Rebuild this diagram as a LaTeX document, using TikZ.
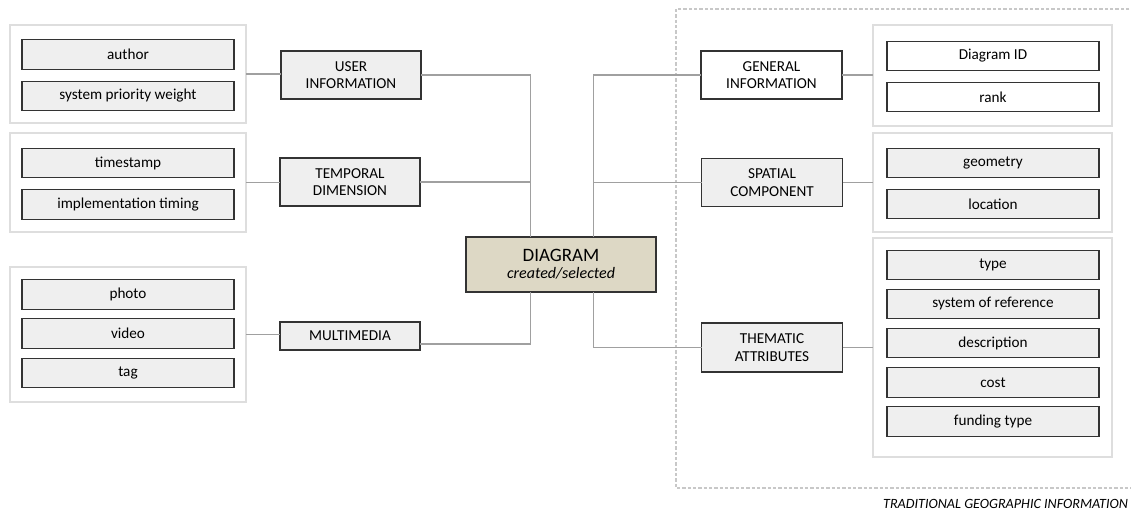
\documentclass[tikz,border=0pt]{standalone}
\usepackage{fontspec}
\setmainfont{Carlito}
\usetikzlibrary{calc}
\definecolor{itemfill}{HTML}{EFEFEF}
\definecolor{diagfill}{HTML}{DDD8C5}
\definecolor{grpline}{HTML}{DEDEDE}
\definecolor{conn}{HTML}{A0A0A0}
\definecolor{dashc}{HTML}{C8C8C8}
\definecolor{edge}{HTML}{333333}
\begin{document}
\begin{tikzpicture}[x=0.75pt,y=-0.75pt,
  every node/.style={outer sep=0pt,inner sep=0pt,align=center},
  grp/.style={draw=grpline,line width=2.2pt,fill=white},
  item/.style={draw=edge,line width=1pt,fill=itemfill,font=\fontsize{11.4pt}{13pt}\selectfont,minimum width=212*0.75pt,minimum height=29.5*0.75pt},
  witem/.style={item,fill=white},
  cat/.style={draw=edge,line width=1pt,fill=itemfill,font=\fontsize{11.4pt}{13pt}\selectfont,minimum width=140*0.75pt,minimum height=48*0.75pt},
  wcat/.style={cat,fill=white},
  link/.style={draw=conn,line width=1.1pt}]
\useasboundingbox (0,0) rectangle (1131,510);
% dashed region
\draw[dashc,line width=0.8pt,dash pattern=on 2.5pt off 1.5pt] (1140,9) -- (676,9) -- (676,488) -- (1140,488);
\node[anchor=east,font=\fontsize{10.6pt}{12pt}\selectfont\itshape] (trad) at (1128,504) {TRADITIONAL GEOGRAPHIC INFORMATION};
% left groups
\node[grp,minimum width=236*0.75pt,minimum height=98*0.75pt] (g1) at (128,74) {};
\node[grp,minimum width=236*0.75pt,minimum height=99*0.75pt] (g2) at (128,182.5) {};
\node[grp,minimum width=236*0.75pt,minimum height=135*0.75pt] (g3) at (128,334.5) {};
\node[item] (author) at (128,54.5) {author};
\node[item] (spw) at (128,96) {system priority weight};
\node[item] (ts) at (128,163) {timestamp};
\node[item] (impl) at (128,204.5) {implementation timing};
\node[item] (photo) at (128,294.5) {photo};
\node[item] (video) at (128,333.5) {video};
\node[item] (tag) at (128,373) {tag};
% left categories
\node[cat] (user) at (351,75) {USER\\INFORMATION};
\node[cat] (temp) at (350,182) {TEMPORAL\\DIMENSION};
\node[cat,minimum height=28*0.75pt] (mm) at (350,336) {MULTIMEDIA};
% centre
\node[draw=edge,line width=1pt,fill=diagfill,minimum width=190*0.75pt,minimum height=55*0.75pt] (diag) at (561,264.5)
  {{\fontsize{14.2pt}{17pt}\selectfont DIAGRAM}\\[1pt]{\fontsize{12pt}{14pt}\selectfont\itshape created/selected}};
% right categories
\node[wcat,minimum width=141*0.75pt] (gen) at (771.5,75) {GENERAL\\INFORMATION};
\node[cat,minimum width=141*0.75pt] (spat) at (772,182.5) {SPATIAL\\COMPONENT};
\node[cat,minimum width=141*0.75pt,minimum height=49*0.75pt] (them) at (772,347.5) {THEMATIC\\ATTRIBUTES};
% right groups
\node[grp,minimum width=239*0.75pt,minimum height=101*0.75pt] (r1) at (992.5,75.5) {};
\node[grp,minimum width=239*0.75pt,minimum height=99*0.75pt] (r2) at (992.5,182.5) {};
\node[grp,minimum width=239*0.75pt,minimum height=219*0.75pt] (r3) at (992.5,347.5) {};
\begin{scope}[every node/.append style={minimum width=214*0.75pt}]
\node[witem] (did) at (993,56) {Diagram ID};
\node[witem] (rank) at (993,97) {rank};
\node[item] (geom) at (993,163) {geometry};
\node[item] (loc) at (993,204) {location};
\node[item] (type) at (993,265) {type};
\node[item] (sor) at (993,304) {system of reference};
\node[item] (desc) at (993,343) {description};
\node[item] (cost) at (993,382.5) {cost};
\node[item] (fund) at (993,421.5) {funding type};
\end{scope}
% junction columns
\coordinate (jl) at (530.5,0);
\coordinate (jr) at (593.5,0);
% connectors left
\draw[link] (g1.east) -- (g1.east -| user.west);
\draw[link] (g2.east) -- (g2.east -| temp.west);
\draw[link] (g3.east) -- (g3.east -| mm.west);
\draw[link] (user.east) -| (jl |- diag.north);
\draw[link] (temp.east) -| (jl |- diag.north);
\draw[link] ($(mm.east)+(0,8)$) -| (jl |- diag.south);
% connectors right
\draw[link] (gen.west) -| (jr |- diag.north);
\draw[link] (spat.west) -| (jr |- diag.north);
\draw[link] (them.west) -| (jr |- diag.south);
\draw[link] (gen.east) -- (gen.east -| r1.west);
\draw[link] (spat.east) -- (spat.east -| r2.west);
\draw[link] (them.east) -- (them.east -| r3.west);
\end{tikzpicture}
\end{document}
